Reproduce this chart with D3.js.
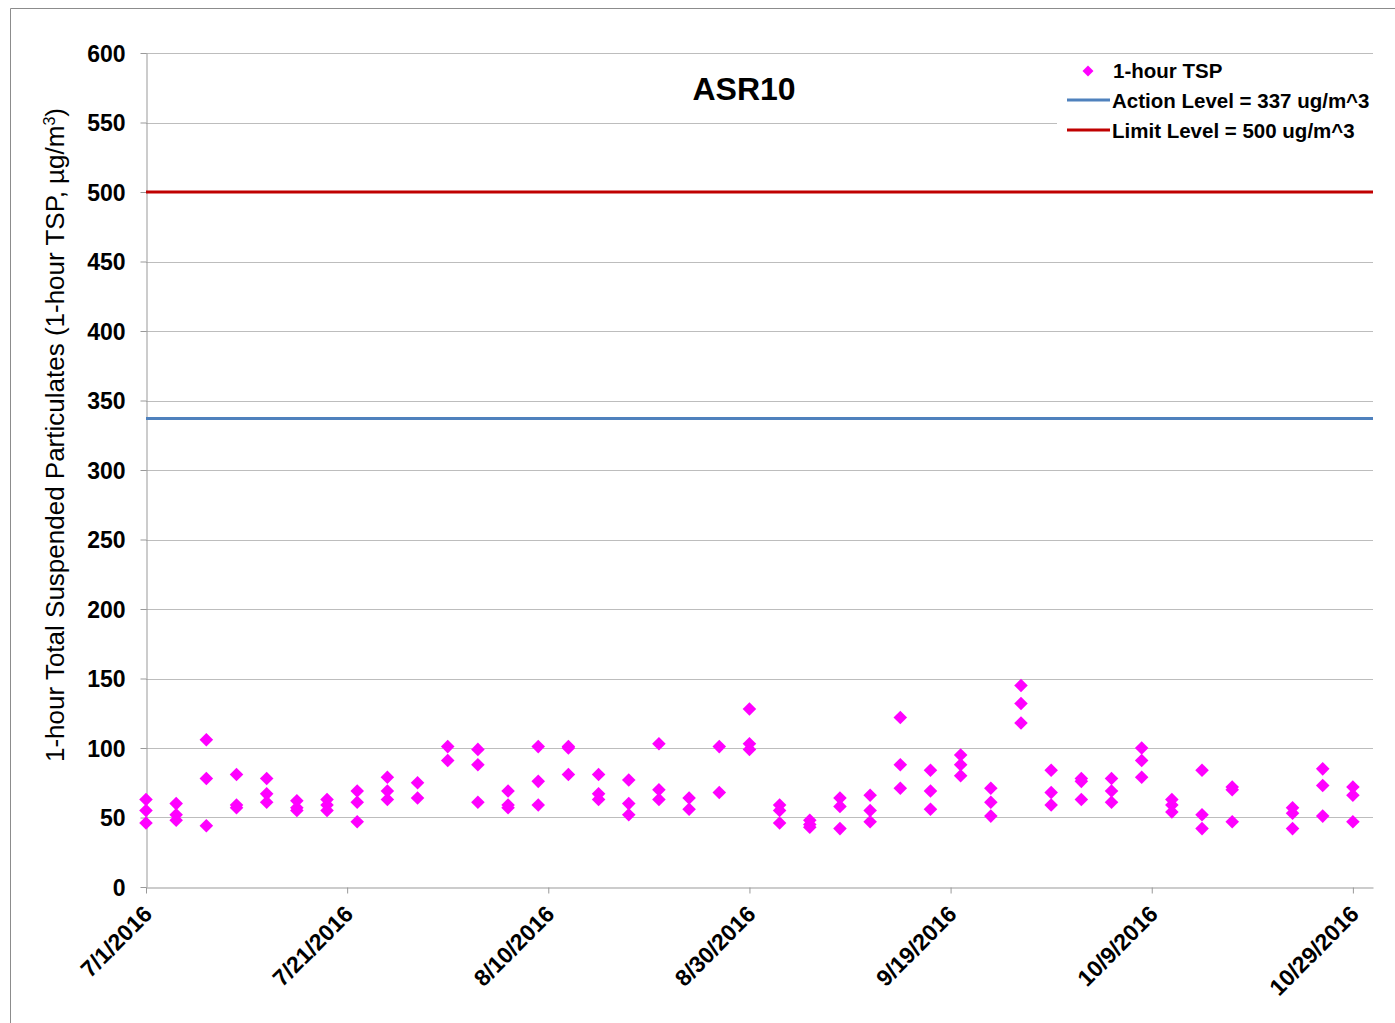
<!DOCTYPE html>
<html><head><meta charset="utf-8">
<script src="https://cdn.jsdelivr.net/npm/d3@7"></script>
<style>body{margin:0;background:#fff;}svg{display:block;font-family:"Liberation Sans",Arial,sans-serif;}</style>
</head><body>
<script>
const dates = ["2016-07-01","2016-07-04","2016-07-07","2016-07-10","2016-07-13","2016-07-16","2016-07-19","2016-07-22","2016-07-25","2016-07-28","2016-07-31","2016-08-03","2016-08-06","2016-08-09","2016-08-12","2016-08-15","2016-08-18","2016-08-21","2016-08-24","2016-08-27","2016-08-30","2016-09-02","2016-09-05","2016-09-08","2016-09-11","2016-09-14","2016-09-17","2016-09-20","2016-09-23","2016-09-26","2016-09-29","2016-10-02","2016-10-05","2016-10-08","2016-10-11","2016-10-14","2016-10-17","2016-10-23","2016-10-26","2016-10-29"];
const tspValues = [
 [63,55,46],[60,52,48],[106,78,44],[81,59,57],[78,67,61],[62,57,55],[63,59,55],
 [69,61,47],[79,69,63],[75,64],[101,91],[99,88,61],[69,59,57],[101,76,59],
 [101,100,81],[81,67,63],[77,60,52],[103,70,63],[64,56],[101,68],[128,103,99],
 [59,55,46],[48,45,43],[64,58,42],[66,55,47],[122,88,71],[84,69,56],[95,88,80],
 [71,61,51],[145,132,118],[84,68,59],[78,76,63],[78,69,61],[100,91,79],[63,59,54],
 [84,52,42],[72,70,47],[57,53,42],[85,73,51],[72,66,47]
];
const actionLevel = 337;
const limitLevel = 500;
const yTicks = [0,50,100,150,200,250,300,350,400,450,500,550,600];
const xTickDates = ["2016-07-01","2016-07-21","2016-08-10","2016-08-30","2016-09-19","2016-10-09","2016-10-29"];
const xTickLabels = ["7/1/2016","7/21/2016","8/10/2016","8/30/2016","9/19/2016","10/9/2016","10/29/2016"];
const legendLabels = ["1-hour TSP","Action Level = 337 ug/m^3","Limit Level = 500 ug/m^3"];
const title = "ASR10";

const W=1395,H=1023;
const FF="'Liberation Sans',Arial,sans-serif";
const parse = d3.utcParse("%Y-%m-%d");
const svg = d3.select("body").append("svg").attr("width",W).attr("height",H);
svg.append("rect").attr("width",W).attr("height",H).attr("fill","#fff");
// outer frame
svg.append("path").attr("d","M10.5,1023 V8.5 H1395").attr("fill","none").attr("stroke","#8c8c8c").attr("stroke-width",1);

const L=146,R=1373,T=53,B=887;
const x = d3.scaleUtc().domain([parse("2016-07-01"),parse("2016-10-31")]).range([L,R]);
const y = d3.scaleLinear().domain([0,600]).range([B,T]);

// gridlines
svg.append("g").selectAll("line").data(yTicks.filter(v=>v>0)).join("line")
 .attr("x1",L).attr("x2",R).attr("y1",d=>Math.round(y(d))+0.5).attr("y2",d=>Math.round(y(d))+0.5)
 .attr("stroke","#bdbdbd").attr("stroke-width",1);

// y axis
const yAxis = svg.append("g").attr("transform",`translate(${L+0.5},0)`)
 .call(d3.axisLeft(y).tickValues(yTicks).tickSize(6).tickSizeOuter(0).tickPadding(8));
yAxis.select(".domain").attr("stroke","#999");
yAxis.selectAll(".tick line").attr("stroke","#999");
yAxis.selectAll(".tick text").attr("font-size",23).attr("font-weight","bold").attr("fill","#000")
 .attr("font-family",FF).attr("x",-21).attr("dy","0.36em");

// x axis
const xAxis = svg.append("g").attr("transform",`translate(0,${B+0.5})`)
 .call(d3.axisBottom(x).tickValues(xTickDates.map(parse)).tickSize(6).tickSizeOuter(0).tickFormat((d,i)=>xTickLabels[i]));
xAxis.select(".domain").attr("stroke","#999");
xAxis.selectAll(".tick line").attr("stroke","#999");
xAxis.selectAll(".tick text").attr("font-size",23).attr("font-weight","bold").attr("fill","#000")
 .attr("font-family",FF)
 .attr("text-anchor","end").attr("y",0).attr("dy",0).attr("transform","translate(7,28) rotate(-45)");

// legend background (covers gridline)
svg.append("rect").attr("x",1057).attr("y",57).attr("width",316).attr("height",88).attr("fill","#fff");

// level lines
svg.append("line").attr("x1",L).attr("x2",R).attr("y1",y(actionLevel)).attr("y2",y(actionLevel))
 .attr("stroke","#4F81BD").attr("stroke-width",3);
svg.append("line").attr("x1",L).attr("x2",R).attr("y1",y(limitLevel)).attr("y2",y(limitLevel))
 .attr("stroke","#C00000").attr("stroke-width",3);

// points
const pts = [];
dates.forEach((d,i)=>tspValues[i].forEach(v=>pts.push({d:parse(d),v})));
const sym = d3.symbol().type(d3.symbolSquare).size(92);
svg.append("g").selectAll("path").data(pts).join("path")
 .attr("d",sym).attr("fill","#FF00FF")
 .attr("transform",d=>`translate(${x(d.d)},${y(d.v)}) rotate(45)`);

// title
svg.append("text").attr("x",744).attr("y",100).attr("text-anchor","middle")
 .attr("font-size",32).attr("font-weight","bold").attr("font-family",FF).text(title);

// y label
const yl = svg.append("text").attr("transform","translate(64,435) rotate(-90)").attr("text-anchor","middle")
 .attr("font-size",26).attr("fill","#000").attr("font-family",FF);
yl.append("tspan").text("1-hour Total Suspended Particulates (1-hour TSP, µg/m");
yl.append("tspan").attr("dy",-9).attr("font-size",16).text("3");
yl.append("tspan").attr("dy",9).text(")");

// legend
const lg = svg.append("g");
lg.append("path").attr("d",d3.symbol().type(d3.symbolSquare).size(60)).attr("fill","#FF00FF").attr("transform","translate(1088,71) rotate(45)");
lg.append("line").attr("x1",1067).attr("x2",1110).attr("y1",100).attr("y2",100).attr("stroke","#4F81BD").attr("stroke-width",3);
lg.append("line").attr("x1",1067).attr("x2",1110).attr("y1",130).attr("y2",130).attr("stroke","#C00000").attr("stroke-width",3);
lg.selectAll("text").data(legendLabels).join("text")
 .attr("x",(d,i)=>i===0?1113:1112).attr("y",(d,i)=>71+i*30).attr("dy","0.36em")
 .attr("font-size",20.5).attr("font-weight","bold").attr("font-family",FF).text(d=>d);
</script>
</body></html>
